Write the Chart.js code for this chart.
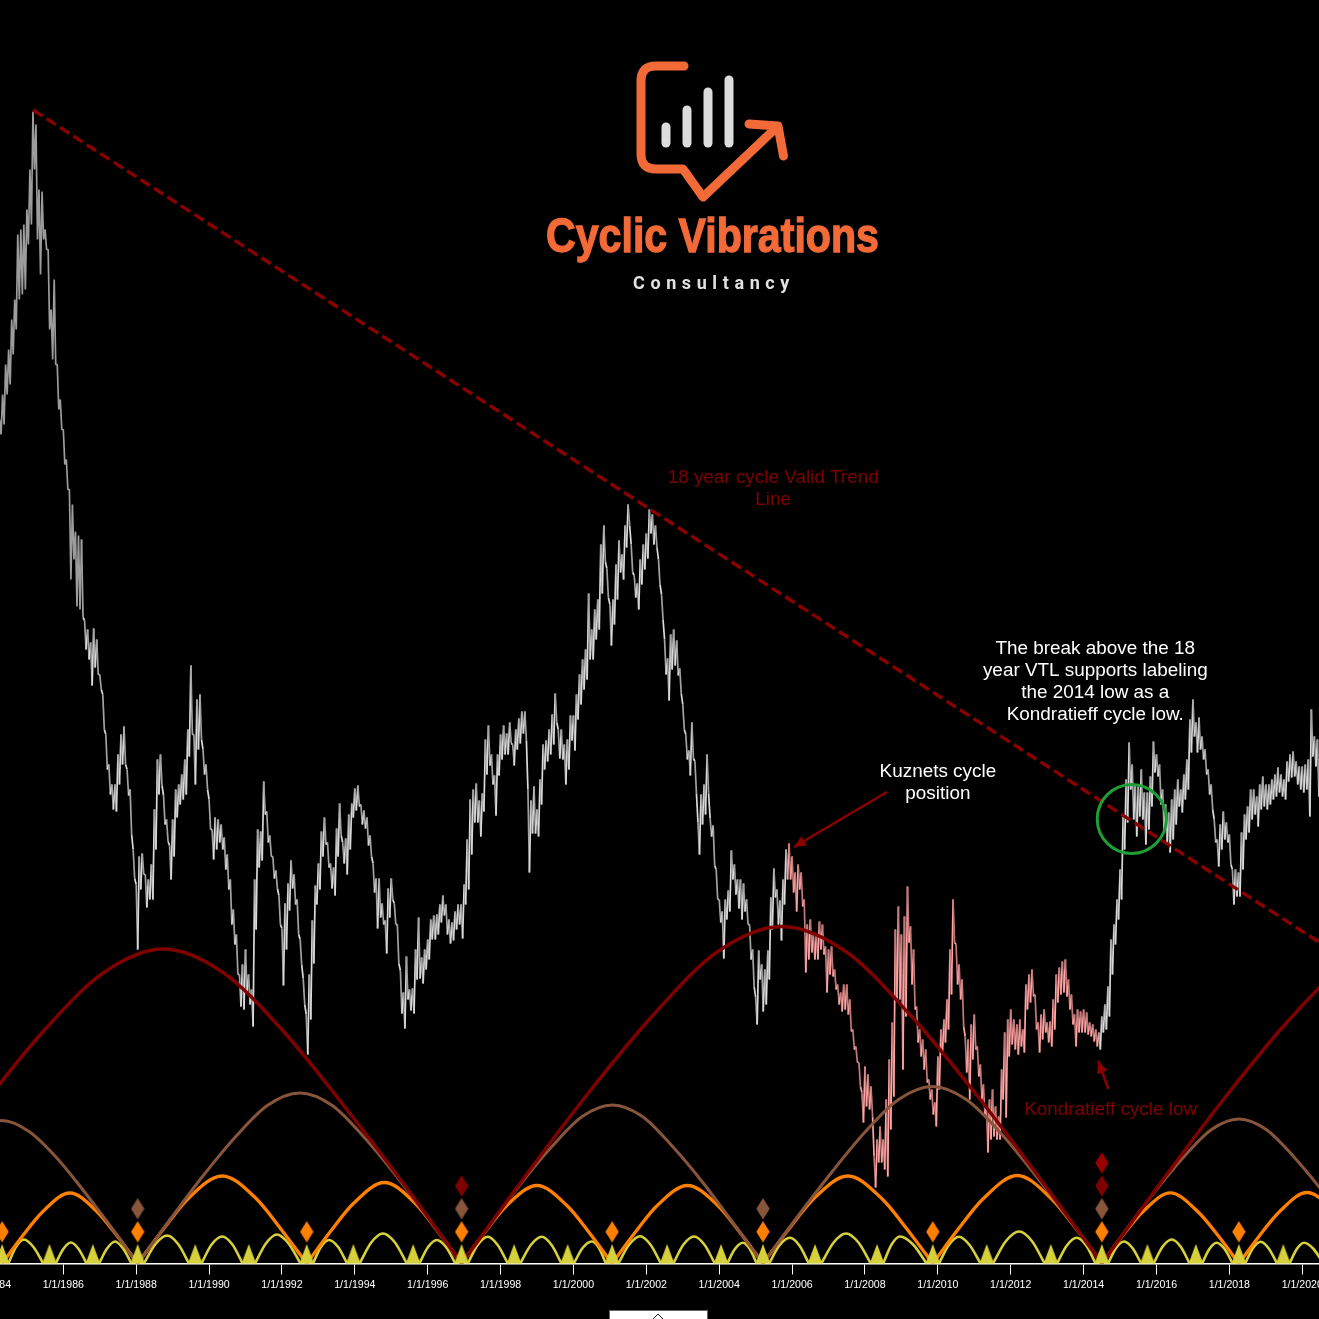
<!DOCTYPE html>
<html>
<head>
<meta charset="utf-8">
<title>Cyclic Vibrations</title>
<script src="https://cdn.jsdelivr.net/npm/chart.js@4/dist/chart.umd.min.js"></script>
<style>
html,body{margin:0;padding:0;background:#000;overflow:hidden;width:1319px;height:1319px}
#wrap{position:absolute;left:-60px;top:0;width:1439px;height:1319px}
canvas{display:block;background:#000}
</style>
</head>
<body>
<div id="wrap"><canvas id="c" width="1439" height="1319"></canvas></div>
<script>
// ---------- axis ----------
const yearTicks = [1984,1986,1988,1990,1992,1994,1996,1998,2000,2002,2004,2006,2008,2010,2012,2014,2016,2018,2020];
const tickPrefix = "1/1/";

// ---------- price: one high and one low per month, from April 1984 (index units, axis unlabelled) ----------
const priceStartYear = 1984.25;
const monthlyHigh = [
844,869,899,914,944,964,1029,1034,1039,1054,1094,1152,
1139,1074,1072,1034,1014,954,984,899,864,834,804,774,
759,732,728,724,643,634,621,635,624,589,569,529,
499,479,479,509,529,537,494,474,414,379,407,410,
389,384,399,454,504,509,468,444,418,444,474,479,
489,504,534,598,529,564,569,514,499,464,434,446,
444,439,426,409,384,354,329,289,299,314,289,274,
384,434,432,482,452,428,407,393,368,335,360,380,
403,389,364,324,285,249,289,343,378,400,432,446,
421,400,396,435,460,421,425,449,460,475,478,459,
453,446,428,400,385,385,360,343,375,385,360,339,
293,271,307,274,275,314,346,306,314,324,344,348,
349,359,368,359,344,341,352,359,359,379,424,464,
474,480,463,470,524,538,509,488,509,529,538,530,
541,519,534,545,552,552,474,463,477,454,484,519,
523,534,549,570,534,534,519,524,548,548,569,589,
604,614,670,634,654,664,719,738,695,659,664,699,
723,709,738,759,719,688,680,704,719,730,754,749,
738,704,669,624,605,629,634,623,595,559,529,513,
541,502,441,469,479,509,445,438,394,364,352,364,
373,413,399,384,384,380,364,339,314,266,313,299,
294,313,366,395,374,363,384,414,420,407,391,399,
391,364,339,344,329,329,342,339,317,314,317,294,
279,271,279,279,264,234,217,201,171,197,189,177,
107,124,137,124,164,204,241,334,357,329,347,377,
337,314,257,234,224,214,184,174,161,207,234,244,
264,314,364,319,299,284,227,224,239,249,217,199,
179,157,164,174,157,147,194,231,244,254,244,239,
244,234,279,289,294,269,241,249,254,241,242,264,
289,296,302,304,284,269,249,254,252,254,251,241,
239,234,231,247,259,277,324,339,364,394,447,484,
521,499,479,477,494,471,471,487,522,509,499,474,
459,451,464,474,484,474,489,504,544,564,541,546,
527,514,494,479,444,424,439,452,441,429,394,394,
391,431,449,457,474,474,467,479,487,479,479,484,
489,496,489,484,502,509,512,502,497,497,499,504,
554,527,524,504];
const monthlyLow = [
829,839,869,879,909,934,964,969,974,1019,1039,1094,
1024,989,1024,1014,934,904,899,854,834,799,774,684,
704,657,654,646,614,604,578,596,589,574,534,494,
469,454,452,479,499,499,468,429,385,314,374,389,
356,364,364,414,469,478,439,422,384,407,446,459,
464,469,507,529,479,514,524,489,474,434,404,414,
421,414,394,374,339,319,289,257,254,271,259,237,
334,396,403,449,421,407,385,375,339,278,314,353,
375,359,329,299,259,209,244,300,359,374,407,419,
396,375,368,407,428,400,389,414,446,453,457,439,
435,418,407,371,335,346,339,310,346,364,339,300,
250,235,264,253,250,284,285,280,294,304,324,324,
329,341,348,329,320,323,334,339,325,359,374,409,
441,441,427,452,489,498,479,448,488,504,509,509,
520,498,514,520,530,523,391,430,430,427,459,494,
502,509,519,541,505,504,479,494,523,513,544,559,
574,584,604,604,624,634,670,702,666,618,639,664,
691,684,716,738,691,666,654,679,694,705,730,719,
716,679,644,589,563,594,598,588,570,534,504,488,
505,470,409,439,449,470,427,398,364,341,305,344,
352,384,369,355,344,352,339,304,277,239,284,252,
259,284,334,366,339,323,359,384,384,371,352,374,
357,291,304,311,304,304,314,309,271,289,287,274,
259,252,254,249,232,214,201,177,141,157,154,147,
76,101,101,94,87,134,167,264,264,194,247,321,
279,254,221,207,194,181,164,149,137,174,209,221,
234,269,321,279,264,237,191,164,204,214,187,164,
149,111,124,127,124,124,164,146,207,219,214,209,
217,211,254,261,267,234,211,224,231,221,217,234,
261,269,271,267,254,239,217,231,231,231,229,227,
222,217,214,231,234,247,289,319,344,364,414,441,
474,444,427,447,444,419,434,457,491,487,459,434,
419,411,424,439,457,451,464,474,511,527,511,514,
504,489,469,454,421,397,414,424,421,399,359,367,
367,394,424,431,444,449,437,454,457,454,459,464,
467,471,467,464,482,486,487,479,474,471,474,447,
507,497,467,474];
const highlightFrom = 2005.85;
const highlightTo = 2014.39;

// ---------- cycles: [year, amplitude] read along each arch ----------
const cycleDeep = [
 [[1980.56,0],[1982.20,82],[1983.83,160],[1985.47,233],[1987.11,291],[1988.74,314.5],[1990.38,291],[1992.02,233],[1993.65,160],[1995.29,82],[1996.93,0]],
 [[1996.93,0],[1998.69,88],[2000.44,172],[2002.20,249],[2003.96,312],[2005.72,337],[2007.47,312],[2009.23,249],[2010.99,172],[2012.74,88],[2014.50,0]],
 [[2014.50,0],[2016.20,85],[2017.90,167],[2019.60,242],[2021.30,302],[2023.00,327]]
];
const cycleBrown = [
 [[1980.60,0],[1981.34,37],[1982.09,73],[1982.83,106],[1983.58,132],[1984.32,143],[1985.06,132],[1985.81,106],[1986.55,73],[1987.30,37],[1988.04,0]],
 [[1988.04,0],[1988.93,44],[1989.82,87],[1990.71,126],[1991.60,158],[1992.49,170.5],[1993.38,158],[1994.26,126],[1995.15,87],[1996.04,44],[1996.93,0]],
 [[1996.93,0],[1997.76,41],[1998.58,81],[1999.41,117],[2000.24,147],[2001.07,158.5],[2001.89,147],[2002.72,117],[2003.55,81],[2004.37,41],[2005.20,0]],
 [[2005.20,0],[2006.13,46],[2007.06,90],[2007.99,131],[2008.92,164],[2009.85,177],[2010.78,164],[2011.71,131],[2012.64,90],[2013.57,46],[2014.50,0]],
 [[2014.50,0],[2015.25,38],[2016.00,74],[2016.76,107],[2017.51,134],[2018.26,144.5],[2019.01,134],[2019.76,107],[2020.52,74],[2021.27,38],[2022.02,0]]
];
const cycleOrange = [
 [[1984.32,0],[1984.88,27.5],[1985.44,52],[1986.18,70.5],[1986.92,52],[1987.48,27.5],[1988.04,0]],
 [[1988.04,0],[1988.74,34],[1989.43,65],[1990.36,87.5],[1991.29,65],[1991.98,34],[1992.68,0]],
 [[1992.68,0],[1993.32,31.5],[1993.96,60],[1994.81,81],[1995.66,60],[1996.29,31.5],[1996.93,0]],
 [[1996.93,0],[1997.55,30.5],[1998.17,58],[1999.00,78],[1999.82,58],[2000.44,30.5],[2001.06,0]],
 [[2001.06,0],[2001.68,30.5],[2002.30,58],[2003.13,78],[2003.96,58],[2004.58,30.5],[2005.20,0]],
 [[2005.20,0],[2005.90,34],[2006.60,65],[2007.53,87.5],[2008.46,65],[2009.16,34],[2009.86,0]],
 [[2009.86,0],[2010.56,34.5],[2011.25,65],[2012.18,88],[2013.11,65],[2013.80,34.5],[2014.50,0]],
 [[2014.50,0],[2015.06,27.5],[2015.63,52],[2016.38,70.7],[2017.13,52],[2017.70,27.5],[2018.26,0]],
 [[2018.26,0],[2018.82,27.5],[2019.38,52],[2020.13,71],[2020.88,52],[2021.44,27.5],[2022.00,0]]
];
const cycleYellow = [
 [[1984.49,0],[1984.70,16.5],[1984.92,24],[1985.18,16.5],[1985.45,0]],
 [[1985.79,0],[1986.00,14.5],[1986.21,21],[1986.42,14.5],[1986.64,0]],
 [[1986.98,0],[1987.20,15],[1987.42,22],[1987.64,15],[1987.87,0]],
 [[1988.21,0],[1988.53,19.5],[1988.85,28],[1989.15,19.5],[1989.45,0]],
 [[1989.79,0],[1990.07,19],[1990.36,27],[1990.64,19],[1990.92,0]],
 [[1991.26,0],[1991.56,20],[1991.86,29],[1992.18,20],[1992.51,0]],
 [[1992.85,0],[1993.07,16.5],[1993.29,23.5],[1993.54,16.5],[1993.79,0]],
 [[1994.13,0],[1994.45,21],[1994.77,30],[1995.10,21],[1995.43,0]],
 [[1995.77,0],[1996.01,16.5],[1996.25,23.5],[1996.50,16.5],[1996.76,0]],
 [[1997.10,0],[1997.37,18.5],[1997.65,26.7],[1997.92,18.5],[1998.20,0]],
 [[1998.54,0],[1998.83,18.5],[1999.13,26.7],[1999.40,18.5],[1999.67,0]],
 [[2000.01,0],[2000.25,15.5],[2000.50,22],[2000.70,15.5],[2000.89,0]],
 [[2001.23,0],[2001.53,19],[2001.83,27.3],[2002.11,19],[2002.40,0]],
 [[2002.74,0],[2003.02,19],[2003.31,27],[2003.59,19],[2003.88,0]],
 [[2004.22,0],[2004.43,14.5],[2004.65,20.7],[2004.84,14.5],[2005.03,0]],
 [[2005.37,0],[2005.65,18],[2005.94,25.7],[2006.20,18],[2006.46,0]],
 [[2006.80,0],[2007.14,21],[2007.48,30],[2007.82,21],[2008.16,0]],
 [[2008.50,0],[2008.73,19],[2008.96,27],[2009.32,19],[2009.69,0]],
 [[2010.03,0],[2010.30,18.5],[2010.58,26.7],[2010.87,18.5],[2011.17,0]],
 [[2011.51,0],[2011.87,22.5],[2012.23,32],[2012.58,22.5],[2012.93,0]],
 [[2013.27,0],[2013.54,18],[2013.81,25.7],[2014.07,18],[2014.33,0]],
 [[2014.67,0],[2014.89,15.5],[2015.11,22],[2015.34,15.5],[2015.58,0]],
 [[2015.92,0],[2016.17,17],[2016.42,24],[2016.66,17],[2016.91,0]],
 [[2017.25,0],[2017.45,14.5],[2017.65,20.7],[2017.87,14.5],[2018.09,0]],
 [[2018.43,0],[2018.64,15],[2018.86,21.7],[2019.08,15],[2019.31,0]],
 [[2019.65,0],[2019.85,14.5],[2020.05,20.7],[2020.31,14.5],[2020.58,0]]
];

// ---------- cycle low markers ----------
const lowsYellow = [1984.32,1985.62,1986.81,1988.04,1989.62,1991.09,1992.68,1993.96,1995.60,1996.93,1998.37,1999.84,2001.06,2002.57,2004.05,2005.20,2006.63,2008.33,2009.86,2011.34,2013.10,2014.50,2015.75,2017.08,2018.26,2019.48];
const lowsOrange = [1984.32,1988.04,1992.68,1996.93,2001.06,2005.20,2009.86,2014.50,2018.26];
const lowsBrown = [1988.04,1996.93,2005.20,2014.50];
const lowsDeep = [1996.93,2014.50];
const lowsTop = [2014.50];
const markerLevels = {yellow:9.5, orange:31.7, brown:54.8, deep:77.5, top:100.5};

// ---------- trend line, arrows, circle ----------
const trendYears = [1985.17,2022.10];
const trendValues = [1153.5,282.7];
const kuznetsArrowYears = [2008.60,2006.05];
const kuznetsArrowValues = [471.5,416.5];
const kondratieffArrowYears = [2014.68,2014.40];
const kondratieffArrowValues = [174.5,202.5];
const breakCircle = [2015.32,444.5];

// ---------- texts ----------
const RED = "#7f0000";
const notes = [
 {t:"18 year cycle Valid Trend", x:2005.48, y:785.5, c:RED},
 {t:"Line", x:2005.48, y:763.5, c:RED},
 {t:"The break above the 18", x:2014.32, y:614.5, c:"#fff"},
 {t:"year VTL supports labeling", x:2014.32, y:592.5, c:"#fff"},
 {t:"the 2014 low as a", x:2014.32, y:570.5, c:"#fff"},
 {t:"Kondratieff cycle low.", x:2014.32, y:548.5, c:"#fff"},
 {t:"Kuznets cycle", x:2010.00, y:491.5, c:"#fff"},
 {t:"position", x:2010.00, y:469.5, c:"#fff"},
 {t:"Kondratieff cycle low", x:2014.74, y:153.5, c:RED}
];
const brandTitle = "Cyclic Vibrations";
const brandSub = "Consultancy";

// ---------- helpers ----------
function arcs(list){
  const out=[];
  list.forEach((a,i)=>{
    if(i) out.push({x:a[0][0],y:null});
    a.forEach(p=>out.push({x:p[0],y:p[1]}));
  });
  return out;
}
function zigzag(){
  const out=[];
  monthlyHigh.forEach((h,i)=>{
    const t=priceStartYear+i/12;
    out.push({x:t,y:h});
    out.push({x:t+1/24,y:monthlyLow[i]});
  });
  return out;
}
function pair(xs,ys){return xs.map((x,i)=>({x:x,y:ys[i]}));}
function diamond(color){
  const c=document.createElement("canvas");c.width=14;c.height=22;
  const g=c.getContext("2d");g.fillStyle=color;g.beginPath();
  g.moveTo(7,0.2);g.lineTo(13.7,11);g.lineTo(7,21.8);g.lineTo(0.3,11);g.closePath();g.fill();
  return c;
}
function wedge(color){
  const c=document.createElement("canvas");c.width=16;c.height=20;
  const g=c.getContext("2d");g.fillStyle=color;g.beginPath();
  g.moveTo(8,0);g.lineTo(15.5,20);g.lineTo(0.5,20);g.closePath();g.fill();
  return c;
}
function marks(xs,level,sprite){
  return {data:xs.map(x=>({x:x,y:level})),showLine:false,pointStyle:sprite,pointRadius:7,pointHoverRadius:7,clip:0};
}
function curve(list,color,w){
  return {data:arcs(list),borderColor:color,borderWidth:w,cubicInterpolationMode:"monotone",pointRadius:0,spanGaps:false,clip:0,fill:false};
}
function straight(xs,ys,color,w,dash){
  return {data:pair(xs,ys),borderColor:color,borderWidth:w,borderDash:dash||[],pointRadius:0,tension:0,fill:false};
}
const priceColour = ctx=>{
  const t=ctx.p0.parsed.x, up=ctx.p0DataIndex%2;
  if(t>=highlightFrom&&t<highlightTo) return up? "#ffa3a3":"#c47a7a";
  if(t<1986.5) return "#9c9c9c";
  return up? "#d9d9d9":"#a2a2a2";
};

const notesPlugin={
  id:"notes",
  afterDatasetsDraw(chart){
    const ctx=chart.ctx, X=chart.scales.x, Y=chart.scales.y;
    ctx.save();
    // arrow heads
    [[kuznetsArrowYears,kuznetsArrowValues],[kondratieffArrowYears,kondratieffArrowValues]].forEach(a=>{
      const x0=X.getPixelForValue(a[0][0]),y0=Y.getPixelForValue(a[1][0]);
      const x1=X.getPixelForValue(a[0][1]),y1=Y.getPixelForValue(a[1][1]);
      const r=Math.atan2(y1-y0,x1-x0);
      ctx.save();ctx.translate(x1,y1);ctx.rotate(r);ctx.fillStyle="#8b0000";
      ctx.beginPath();ctx.moveTo(0,0);ctx.lineTo(-12,-5.5);ctx.lineTo(-12,5.5);ctx.closePath();ctx.fill();
      ctx.restore();
    });
    // notes
    ctx.font='18.9px "Liberation Sans",Arial,sans-serif';
    ctx.textAlign="center";ctx.textBaseline="middle";
    notes.forEach(n=>{
      ctx.fillStyle=n.c;
      ctx.fillText(n.t,X.getPixelForValue(n.x),Y.getPixelForValue(n.y));
    });
    // brand mark, page positions
    const off=-chart.canvas.parentNode.offsetLeft;
    ctx.translate(off,0);
    const O="#f26a38";
    ctx.lineCap="round";ctx.lineJoin="round";
    ctx.strokeStyle=O;ctx.lineWidth=9;
    ctx.beginPath();
    ctx.moveTo(684,66);ctx.lineTo(656,66);ctx.quadraticCurveTo(641,66,641,81);
    ctx.lineTo(641,154);ctx.quadraticCurveTo(641,169,656,169);
    ctx.lineTo(683,169);ctx.lineTo(703,197);ctx.lineTo(778,126);
    ctx.moveTo(749,124);ctx.lineTo(778,126);ctx.lineTo(783.5,156);
    ctx.stroke();
    ctx.strokeStyle="#dcdcdc";
    [[666,127],[687,110],[708,92],[729,80]].forEach(b=>{
      ctx.beginPath();ctx.moveTo(b[0],b[1]);ctx.lineTo(b[0],143);ctx.stroke();
    });
    ctx.textAlign="left";ctx.textBaseline="alphabetic";
    ctx.save();ctx.translate(546,252);
    ctx.font='bold 49px "Liberation Sans Narrow","Liberation Sans",sans-serif';
    const w=ctx.measureText(brandTitle).width;
    ctx.scale(333/w,1);
    ctx.fillStyle=O;ctx.strokeStyle=O;ctx.lineWidth=1.4;ctx.lineJoin="miter";
    ctx.fillText(brandTitle,0,0);ctx.strokeText(brandTitle,0,0);ctx.restore();
    ctx.fillStyle="#e2e2e2";
    ctx.font='bold 18px Roboto,"Liberation Sans",sans-serif';
    ctx.letterSpacing="5.6px";
    ctx.fillText(brandSub,633,289);
    ctx.letterSpacing="0px";
    // scroll handle at the bottom edge
    ctx.fillStyle="#fff";ctx.fillRect(609,1310,98.5,10);
    ctx.strokeStyle="#666";ctx.lineWidth=1;ctx.lineCap="butt";ctx.lineJoin="miter";
    ctx.strokeRect(609.5,1310.5,98,12);
    ctx.strokeStyle="#222";ctx.beginPath();ctx.moveTo(653,1319);ctx.lineTo(658,1314);ctx.lineTo(663,1319);ctx.stroke();
    ctx.restore();
  }
};

const datasets=[
  marks(lowsTop,markerLevels.top,diamond("#990000")),
  marks(lowsDeep,markerLevels.deep,diamond("#7f0000")),
  marks(lowsBrown,markerLevels.brown,diamond("#87553b")),
  marks(lowsOrange,markerLevels.orange,diamond("#ff8000")),
  marks(lowsYellow,markerLevels.yellow,wedge("#d6d03a")),
  curve(cycleDeep,"#800000",3.4),
  curve(cycleBrown,"#87553b",3),
  curve(cycleOrange,"#ff8000",3.3),
  curve(cycleYellow,"#d6d03a",2.6),
  straight(kuznetsArrowYears,kuznetsArrowValues,"#8b0000",2.6),
  straight(kondratieffArrowYears,kondratieffArrowValues,"#8b0000",2.6),
  {data:[{x:breakCircle[0],y:breakCircle[1]}],showLine:false,pointStyle:"circle",pointRadius:34.5,pointHoverRadius:34.5,pointBorderWidth:3,pointBorderColor:"#1f9e35",pointBackgroundColor:"rgba(0,0,0,0)",clip:false},
  straight(trendYears,trendValues,"#8a0000",3.4,[11,5]),
  {data:zigzag(),borderWidth:1.7,borderColor:"#a0a0a0",borderJoinStyle:"bevel",pointRadius:0,tension:0,fill:false,segment:{borderColor:priceColour}}
];

new Chart(document.getElementById("c"),{
  type:"line",
  data:{datasets:datasets},
  options:{
    responsive:false,animation:false,
    events:[],
    layout:{padding:0,autoPadding:false},
    plugins:{legend:{display:false},tooltip:{enabled:false},title:{display:false}},
    scales:{
      x:{
        type:"linear",min:1982.616,max:2022.106,
        grid:{display:true,drawOnChartArea:false,drawTicks:true,tickLength:11,tickColor:"#fff",tickWidth:1},
        border:{display:true,color:"#fff",width:1.5},
        afterBuildTicks(s){s.ticks=yearTicks.map(v=>({value:v}));},
        afterFit(s){s.height=55.5;},
        ticks:{
          autoSkip:false,maxRotation:0,minRotation:0,padding:4,color:"#fff",
          font:{family:'"Liberation Sans",sans-serif',size:10.6},
          callback:v=>tickPrefix+v
        }
      },
      y:{type:"linear",min:0,max:1263.5,display:false}
    }
  },
  plugins:[notesPlugin]
});
</script>
</body>
</html>
